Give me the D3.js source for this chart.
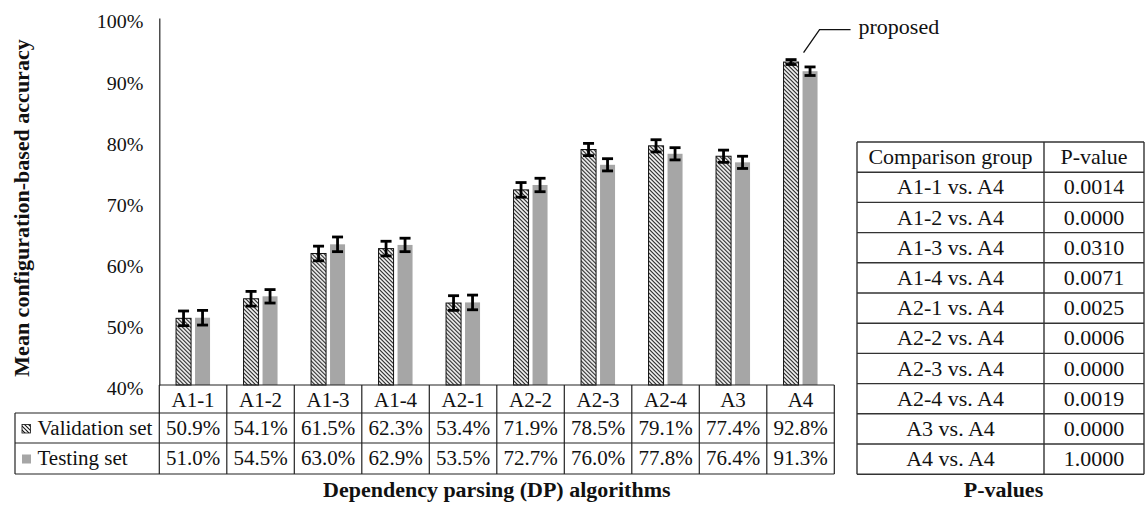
<!DOCTYPE html>
<html>
<head>
<meta charset="utf-8">
<script src="https://cdn.jsdelivr.net/npm/d3@7"></script>
<style>
  html, body { margin: 0; padding: 0; background: #fff; }
  svg { display: block; font-family: "Liberation Serif", "Times New Roman", serif; }
</style>
</head>
<body>
<svg id="chart" width="1145" height="506"></svg>
<script>
// Algorithm groups and their mean configuration-based accuracy (%)
const categories = ["A1-1", "A1-2", "A1-3", "A1-4", "A2-1", "A2-2", "A2-3", "A2-4", "A3", "A4"];
const validation = [50.9, 54.1, 61.5, 62.3, 53.4, 71.9, 78.5, 79.1, 77.4, 92.8];
const testing    = [51.0, 54.5, 63.0, 62.9, 53.5, 72.7, 76.0, 77.8, 76.4, 91.3];
// Error bar half-lengths (percentage points)
const validationErr = [1.2, 1.2, 1.2, 1.2, 1.2, 1.2, 1.0, 1.0, 1.0, 0.4];
const testingErr    = [1.2, 1.1, 1.2, 1.1, 1.2, 1.1, 1.0, 1.0, 1.0, 0.7];
const seriesNames = ["Validation set", "Testing set"];
const yTicks = [40, 50, 60, 70, 80, 90, 100];

// Significance table
const comparisonGroups = ["A1-1 vs. A4", "A1-2 vs. A4", "A1-3 vs. A4", "A1-4 vs. A4", "A2-1 vs. A4",
                          "A2-2 vs. A4", "A2-3 vs. A4", "A2-4 vs. A4", "A3 vs. A4", "A4 vs. A4"];
const pValues = ["0.0014", "0.0000", "0.0310", "0.0071", "0.0025",
                 "0.0006", "0.0000", "0.0019", "0.0000", "1.0000"];

const svg = d3.select("#chart");
const GRAY = "#a6a6a6";

// Hatch fill for the validation bars
const defs = svg.append("defs");
defs.append("pattern")
  .attr("id", "hatch")
  .attr("patternUnits", "userSpaceOnUse")
  .attr("width", 4).attr("height", 4)
  .append("path")
  .attr("d", "M-1,-1 L5,5 M-1,3 L1,5 M3,-1 L5,1")
  .attr("stroke", "#111").attr("stroke-width", 1.1);

// Text helper: slightly condensed vertically
function txt(g, x, y, s, o = {}) {
  const size = o.size || 21, sy = o.sy || 0.95;
  return g.append("text")
    .attr("transform", `translate(${x},${y}) scale(1,${sy})`)
    .attr("text-anchor", o.anchor || "middle")
    .style("font-size", size + "px")
    .style("font-weight", o.weight || "normal")
    .attr("fill", "#111")
    .text(s);
}

// Scales
const plotLeft = 159.3, plotRight = 834.3, plotTop = 18, plotBottom = 385;
const x = d3.scaleBand().domain(categories).range([plotLeft, plotRight]);
const bw = x.bandwidth();
const xs = d3.scaleBand().domain(["validation", "testing"])
  .range([bw / 2 - 17, bw / 2 + 17]).paddingInner(0.21);
const y = d3.scaleLinear().domain([40, 100]).range([plotBottom, plotTop]);

const rows = categories.map((c, i) => ({
  c,
  bars: [
    { key: "validation", v: validation[i], e: validationErr[i] },
    { key: "testing", v: testing[i], e: testingErr[i] }
  ]
}));

// Bars
const groups = svg.append("g").selectAll("g").data(rows).join("g")
  .attr("transform", d => `translate(${x(d.c)},0)`);

groups.selectAll("rect").data(d => d.bars).join("rect")
  .attr("x", d => xs(d.key))
  .attr("y", d => y(d.v))
  .attr("width", xs.bandwidth())
  .attr("height", d => y(40) - y(d.v))
  .attr("fill", d => d.key === "validation" ? "url(#hatch)" : GRAY)
  .attr("stroke", d => d.key === "validation" ? "#111" : "none")
  .attr("stroke-width", 1);

// Error bars
const eb = groups.selectAll("g.err").data(d => d.bars).join("g").attr("class", "err")
  .attr("transform", d => `translate(${xs(d.key) + xs.bandwidth() / 2},0)`)
  .attr("stroke", "#000").attr("stroke-width", 2.8);
eb.append("line").attr("x1", 0).attr("x2", 0)
  .attr("y1", d => y(d.v + d.e)).attr("y2", d => y(d.v - d.e));
eb.append("line").attr("x1", -5.5).attr("x2", 5.5)
  .attr("y1", d => y(d.v + d.e)).attr("y2", d => y(d.v + d.e));
eb.append("line").attr("x1", -5.5).attr("x2", 5.5)
  .attr("y1", d => y(d.v - d.e)).attr("y2", d => y(d.v - d.e));

// Y axis
const yAxis = svg.append("g")
  .attr("transform", `translate(${plotLeft},0)`)
  .call(d3.axisLeft(y).tickValues(yTicks).tickSize(0).tickSizeOuter(0).tickFormat(d => d + "%"));
yAxis.select(".domain").attr("stroke", "#222").attr("stroke-width", 1.2);
yAxis.selectAll(".tick text")
  .attr("x", -16).attr("dy", null).attr("y", 10.5)
  .attr("transform", "scale(1,0.95)")
  .style("font-family", "'Liberation Serif', serif")
  .style("font-size", "20px").attr("fill", "#111");

// Y title
svg.append("text")
  .attr("transform", `translate(29,208) rotate(-90)`)
  .attr("text-anchor", "middle")
  .style("font-size", "22px").style("font-weight", "bold").attr("fill", "#111")
  .text("Mean configuration-based accuracy");

// Data table below the plot
const tbl = svg.append("g");
const tLeft = 15, rowTop = plotBottom, row1 = 413, row2 = 443, row3 = 474;
const tline = (x1, y1, x2, y2) => tbl.append("line")
  .attr("x1", x1).attr("y1", y1).attr("x2", x2).attr("y2", y2)
  .attr("stroke", "#222").attr("stroke-width", 1.2);
tline(plotLeft, rowTop, plotRight, rowTop);
tline(tLeft, row1, plotRight, row1);
tline(tLeft, row2, plotRight, row2);
tline(tLeft, row3, plotRight, row3);
tline(tLeft, row1, tLeft, row3);
tline(plotLeft, rowTop, plotLeft, row3);
categories.forEach(c => tline(x(c) + bw, rowTop, x(c) + bw, row3));

categories.forEach((c, i) => {
  const cx = x(c) + bw / 2;
  txt(tbl, cx, (rowTop + row1) / 2 + 7.5, c);
  txt(tbl, cx, (row1 + row2) / 2 + 7, validation[i].toFixed(1) + "%");
  txt(tbl, cx, (row2 + row3) / 2 + 6, testing[i].toFixed(1) + "%");
});

// Legend keys inside the table
tbl.append("rect").attr("x", 22).attr("y", (row1 + row2) / 2 - 3.5).attr("width", 8.5).attr("height", 8.5)
  .attr("fill", "url(#hatch)").attr("stroke", "#111").attr("stroke-width", 0.8);
tbl.append("rect").attr("x", 22).attr("y", (row2 + row3) / 2 - 4).attr("width", 9).attr("height", 9)
  .attr("fill", GRAY);
txt(tbl, 37.5, (row1 + row2) / 2 + 7, seriesNames[0], { anchor: "start" });
txt(tbl, 37.5, (row2 + row3) / 2 + 6, seriesNames[1], { anchor: "start" });

// X title
txt(svg, (plotLeft + plotRight) / 2, 497, "Dependency parsing (DP) algorithms", { size: 22, weight: "bold" });

// Callout for the proposed method (A4, validation)
const a4 = categories.length - 1;
const cx0 = x(categories[a4]) + xs("validation") + xs.bandwidth() + 5;
const cy0 = y(validation[a4] + validationErr[a4]) - 7;
svg.append("path")
  .attr("d", `M${cx0},${cy0} L${cx0 + 16},${cy0 - 23} L${cx0 + 47},${cy0 - 23}`)
  .attr("fill", "none").attr("stroke", "#111").attr("stroke-width", 1.3);
txt(svg, cx0 + 55, cy0 - 18.5, "proposed", { size: 22, anchor: "start" });

// P-value table
const pt = svg.append("g");
const pL = 857, pM = 1044, pR = 1144, pTop = 142, pRowH = 30.2;
const nRows = comparisonGroups.length + 1;
const pline = (x1, y1, x2, y2) => pt.append("line")
  .attr("x1", x1).attr("y1", y1).attr("x2", x2).attr("y2", y2)
  .attr("stroke", "#333").attr("stroke-width", 1.4);
for (let r = 0; r <= nRows; r++) pline(pL, pTop + r * pRowH, pR, pTop + r * pRowH);
pline(pL, pTop, pL, pTop + nRows * pRowH);
pline(pM, pTop, pM, pTop + nRows * pRowH);
pline(pR, pTop, pR, pTop + nRows * pRowH);

const c1 = (pL + pM) / 2, c2 = (pM + pR) / 2;
txt(pt, c1, pTop + pRowH / 2 + 7, "Comparison group", { size: 22 });
txt(pt, c2, pTop + pRowH / 2 + 7, "P-value", { size: 22 });
comparisonGroups.forEach((g, i) => {
  const yy = pTop + (i + 1) * pRowH + pRowH / 2 + 7;
  txt(pt, c1, yy, g, { size: 22 });
  txt(pt, c2, yy, pValues[i], { size: 22 });
});
txt(svg, (pL + pR) / 2 + 3, 497, "P-values", { size: 22, weight: "bold" });
</script>
</body>
</html>
